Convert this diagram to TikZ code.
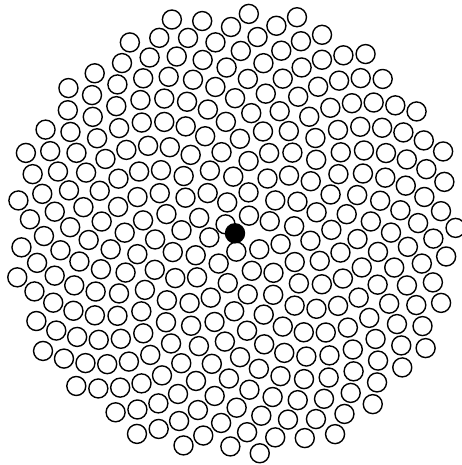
\documentclass[tikz,border=0pt]{standalone}
\begin{document}
\begin{tikzpicture}[x=1pt,y=1pt,
  seed/.style={draw=black,line width=1.4pt},
  core/.style={draw=black,fill=black,line width=1.4pt}]
\useasboundingbox (0,0) rectangle (461,465);
\fill[white] (0,0) rectangle (461,465);
\begin{scope}[shift={(235,231.7)}]
\foreach \n in {1,...,300}{
  \edef\angm{\the\numexpr \n*137508-((\n*137508-180000)/360000)*360000\relax}
  \edef\angi{\the\numexpr (\angm-500)/1000\relax}
  \edef\angf{\the\numexpr \angm-\angi*1000\relax}
  \pgfmathsetmacro\ang{\angi+\angf/1000-0.9}
  \pgfmathsetmacro\rad{13*sqrt(\n)}
  \draw[seed] (\ang:\rad) circle[radius=9.5];
}
\coordinate (c0) at (0,0);
\draw[core] (c0) circle[radius=9.5];
\end{scope}
\end{tikzpicture}
\end{document}
